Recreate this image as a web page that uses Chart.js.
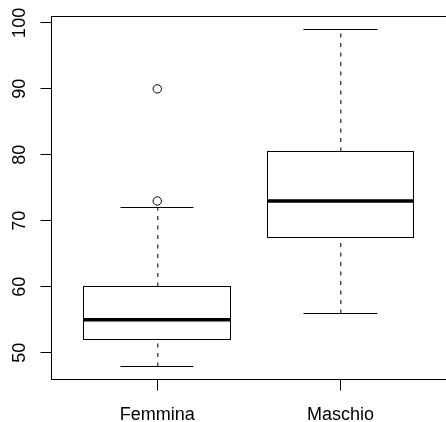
<!DOCTYPE html>
<html>
<head>
<meta charset="utf-8">
<script src="https://cdn.jsdelivr.net/npm/chart.js@4.4.1/dist/chart.umd.min.js"></script>
<style>
  html, body { margin: 0; padding: 0; background: #fff; overflow: hidden; }
  #wrap { width: 446px; height: 422px; overflow: hidden; }
  canvas { display: block; }
</style>
</head>
<body>
<div id="wrap"><canvas id="chart" width="452" height="422"></canvas></div>
<script>
// boxplot stats per group
const categories = ['Femmina', 'Maschio'];
const whiskerLow = [48, 56];
const q1 = [52, 67.5];
const median = [55, 73];
const q3 = [60, 80.5];
const whiskerHigh = [72, 99];
const outliers = [[73, 90], []];
const yTicks = [50, 60, 70, 80, 90, 100];

const FONT = '18px "Liberation Sans", Arial, sans-serif';
const snap = v => Math.round(v - 0.5) + 0.5;

const outlierPoints = [];
outliers.forEach((list, i) => list.forEach(v => outlierPoints.push({ x: i + 1, y: v })));

const boxPlugin = {
  id: 'boxes',
  beforeDatasetsDraw(chart) {
    const ctx = chart.ctx;
    const xs = chart.scales.x, ys = chart.scales.y;
    ctx.save();
    ctx.strokeStyle = '#000';
    categories.forEach((c, i) => {
      const xc = snap(xs.getPixelForValue(i + 1));
      const bl = snap(xs.getPixelForValue(i + 1 - 0.4));
      const br = snap(xs.getPixelForValue(i + 1 + 0.4));
      const cl = snap(xs.getPixelForValue(i + 1 - 0.2));
      const cr = snap(xs.getPixelForValue(i + 1 + 0.2));
      const yLo = snap(ys.getPixelForValue(whiskerLow[i]));
      const yQ1 = snap(ys.getPixelForValue(q1[i]));
      const yMed = ys.getPixelForValue(median[i]);
      const yQ3 = snap(ys.getPixelForValue(q3[i]));
      const yHi = snap(ys.getPixelForValue(whiskerHigh[i]));

      // whiskers (dashed), slightly soft like the R device
      ctx.lineWidth = 1.2;
      ctx.strokeStyle = '#222';
      ctx.setLineDash([4, 5.5]);
      ctx.beginPath();
      ctx.moveTo(xc + 0.3, yLo); ctx.lineTo(xc + 0.3, yQ1);
      ctx.stroke();
      ctx.beginPath();
      ctx.moveTo(xc + 0.3, yQ3); ctx.lineTo(xc + 0.3, yHi);
      ctx.stroke();
      ctx.setLineDash([]);
      ctx.strokeStyle = '#000';
      ctx.lineWidth = 1;

      // staples
      ctx.beginPath();
      ctx.moveTo(cl, yLo); ctx.lineTo(cr, yLo);
      ctx.moveTo(cl, yHi); ctx.lineTo(cr, yHi);
      ctx.stroke();

      // box
      ctx.fillStyle = '#fff';
      ctx.fillRect(bl, yQ3, br - bl, yQ1 - yQ3);
      ctx.strokeRect(bl, yQ3, br - bl, yQ1 - yQ3);

      // median
      ctx.lineWidth = 3.5;
      ctx.beginPath();
      ctx.moveTo(bl, yMed); ctx.lineTo(br, yMed);
      ctx.stroke();
    });
    ctx.restore();
  },
  afterDraw(chart) {
    const ctx = chart.ctx;
    const xs = chart.scales.x, ys = chart.scales.y;
    const a = chart.chartArea;
    ctx.save();
    ctx.strokeStyle = '#000';
    ctx.fillStyle = '#000';
    ctx.lineWidth = 1;
    // frame
    ctx.strokeRect(snap(a.left), snap(a.top), snap(a.right) - snap(a.left), snap(a.bottom) - snap(a.top));

    ctx.font = FONT;
    // y axis ticks + rotated labels
    yTicks.forEach(t => {
      const y = snap(ys.getPixelForValue(t));
      ctx.beginPath();
      ctx.moveTo(snap(a.left), y); ctx.lineTo(snap(a.left) - 11, y);
      ctx.stroke();
      ctx.save();
      ctx.translate(a.left - 26, ys.getPixelForValue(t));
      ctx.rotate(-Math.PI / 2);
      ctx.textAlign = 'center';
      ctx.textBaseline = 'alphabetic';
      ctx.fillText(String(t), 0, 0);
      ctx.restore();
    });

    // x axis ticks + labels
    categories.forEach((c, i) => {
      const x = snap(xs.getPixelForValue(i + 1));
      ctx.beginPath();
      ctx.moveTo(x, snap(a.bottom)); ctx.lineTo(x, snap(a.bottom) + 11);
      ctx.stroke();
      ctx.textAlign = 'center';
      ctx.textBaseline = 'alphabetic';
      ctx.fillText(c, xs.getPixelForValue(i + 1), a.bottom + 40);
    });
    ctx.restore();
  }
};

new Chart(document.getElementById('chart'), {
  type: 'scatter',
  data: {
    datasets: [{
      data: outlierPoints,
      pointStyle: 'circle',
      pointRadius: 4.2,
      pointBackgroundColor: '#fff',
      pointBorderColor: '#000',
      pointBorderWidth: 1,
      pointHoverRadius: 4.2
    }]
  },
  options: {
    responsive: false,
    animation: false,
    layout: { padding: { left: 51, top: 16, right: 3.6, bottom: 42.5 } },
    scales: {
      x: { type: 'linear', min: 0.42, max: 2.58, display: false },
      y: { type: 'linear', min: 45.96, max: 101.04, display: false }
    },
    plugins: { legend: { display: false }, tooltip: { enabled: false } }
  },
  plugins: [boxPlugin]
});
</script>
</body>
</html>
